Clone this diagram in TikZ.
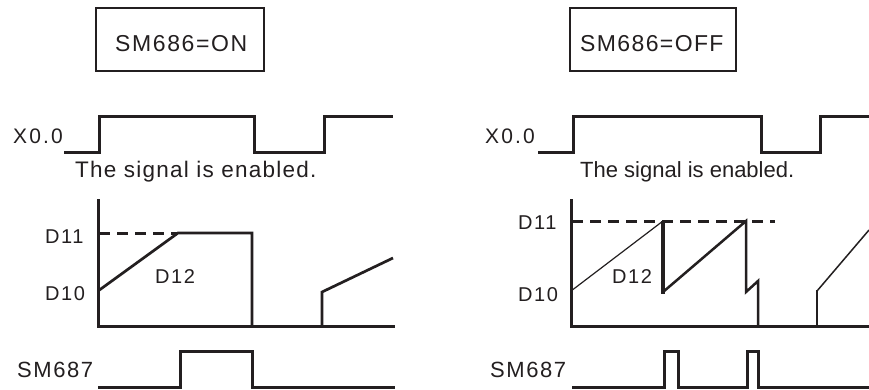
\documentclass[tikz,border=0pt]{standalone}
\usepackage{fontspec}
\setmainfont{Liberation Sans}
\definecolor{ink}{HTML}{231F20}
\newcommand{\fsz}[2]{\fontsize{#1}{#1}\selectfont\addfontfeature{LetterSpace=#2}}
\begin{document}
\begin{tikzpicture}[x=1pt,y=-1pt,
  sig/.style={line width=3pt,draw=ink,line join=miter,line cap=butt},
  frame/.style={draw=ink,line width=2pt,minimum width=168pt,minimum height=63pt,inner sep=0pt},
  lbl/.style={anchor=base west,inner sep=0pt,text=ink},
  dsh/.style={draw=ink,line width=3pt,dash pattern=on 11pt off 7pt}]
\useasboundingbox (0,0) rectangle (869,389);
\fill[white] (0,0) rectangle (869,389);

% ---------- left panel ----------
\node[frame] (boxL) at (180,39.5) {};
\node[lbl] (tL) at (115,51) {\fsz{23}{7}SM686=ON};

\node[lbl] (xL) at (13,143) {\fsz{21}{10}X0.0};
\draw[sig] (64,152) -- (99,152) -- (99,116) -- (254,116) -- (254,152) -- (324,152) -- (324,116) -- (393,116);
\node[lbl] (enL) at (75,177) {\fsz{22.5}{5.5}The signal is enabled.};

\draw[sig] (98,199) -- (98,326) -- (395,326);
\node[lbl] (d11L) at (45,243) {\fsz{20}{8}D11};
\node[lbl] (d10L) at (45,300) {\fsz{20}{8}D10};
\node[lbl] (d12L) at (155,283) {\fsz{20}{8}D12};
\draw[dsh] (99,233) -- (178,233);
\draw[line width=2.7pt,draw=ink,line join=miter] (98,291) -- (178,233) -- (252,233) -- (252,326);
\draw[line width=2.7pt,draw=ink,line join=miter] (322,326) -- (322,292) -- (393,258);

\node[lbl] (smL) at (17,377) {\fsz{22}{7}SM687};
\draw[sig] (98,387) -- (180,387) -- (180,351) -- (252,351) -- (252,387) -- (395,387);

% ---------- right panel ----------
\node[frame,minimum width=166pt] (boxR) at (653,39.5) {};
\node[lbl] (tR) at (580,51) {\fsz{23}{6}SM686=OFF};

\node[lbl] (xR) at (485,143) {\fsz{21}{10}X0.0};
\draw[sig] (538,152) -- (573,152) -- (573,116) -- (761,116) -- (761,152) -- (820,152) -- (820,116) -- (869,116);
\node[lbl] (enR) at (580,177) {\fsz{22}{0}The signal is enabled.};

\draw[sig] (571,199) -- (571,326) -- (869,326);
\node[lbl] (d11R) at (518,229) {\fsz{20}{8}D11};
\node[lbl] (d10R) at (518,301) {\fsz{20}{8}D10};
\node[lbl] (d12R) at (612,283) {\fsz{20}{8}D12};
\draw[dsh] (572,221) -- (775,221);
\draw[line width=1.2pt,draw=ink] (571,291) -- (663,221);
\draw[line width=4pt,draw=ink] (663,221) -- (663,294);
\draw[line width=2.5pt,draw=ink,line join=miter] (663,292) -- (746,221) -- (746,292) -- (758,281) -- (758,326);
\draw[line width=2.5pt,draw=ink] (817,326) -- (817,290);
\draw[line width=1.5pt,draw=ink] (817,291) -- (869,230);

\node[lbl] (smR) at (490,377) {\fsz{22}{7}SM687};
\draw[sig] (572,387) -- (664,387) -- (664,351) -- (678,351) -- (678,387) -- (747,387) -- (747,351) -- (758,351) -- (758,387) -- (869,387);
\end{tikzpicture}
\end{document}
